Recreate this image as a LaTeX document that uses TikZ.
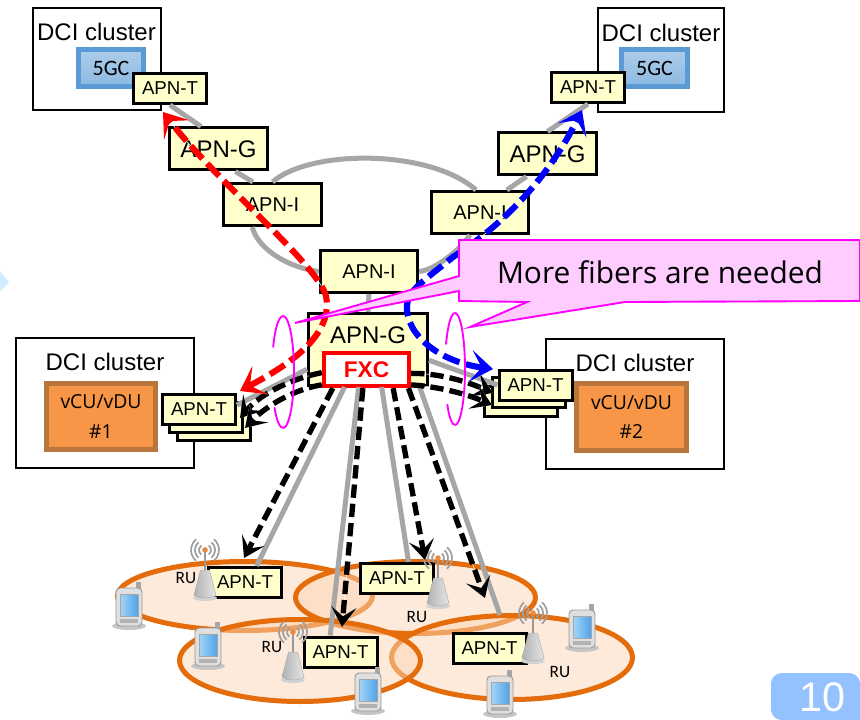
\documentclass[tikz,border=0pt]{standalone}
\usepackage{fontspec}
\setmainfont{Liberation Sans}
\newfontfamily\carlito{Carlito}
\newfontfamily\opensans{Open Sans}
\usetikzlibrary{positioning,arrows.meta,shapes.geometric}

\definecolor{apnfill}{HTML}{FFFFCC}
\definecolor{fibergray}{HTML}{A6A6A6}
\definecolor{cellline}{HTML}{E46C0A}
\definecolor{cellfill}{HTML}{FCD5B5}
\definecolor{gcline}{HTML}{5B9BD5}
\definecolor{culine}{HTML}{B8763C}
\definecolor{cufill}{HTML}{F79646}
\definecolor{notefill}{HTML}{FFCCFF}
\definecolor{notecolor}{HTML}{FF00FF}
\definecolor{badge}{HTML}{94C1FF}
\definecolor{screenA}{HTML}{A5D5F7}
\definecolor{screenB}{HTML}{4FA3E8}

\tikzset{
	apnT/.style={rectangle, draw=black, line width=2.25pt, fill=apnfill, inner sep=0pt, minimum width=54.75pt, minimum height=22.5pt, font=\fontsize{14}{16}\selectfont},
	apnI/.style={rectangle, draw=black, line width=2.25pt, fill=apnfill, inner sep=0pt, minimum width=73pt, minimum height=31.5pt, font=\fontsize{15}{17}\selectfont},
	apnG/.style={apnI, font=\fontsize{18}{20}\selectfont},
	dciBox/.style={rectangle, draw=black, line width=1.5pt, fill=white, inner sep=0pt},
	dciText/.style={inner sep=0pt, font=\fontsize{18}{20}\selectfont},
	gcBox/.style={rectangle, draw=gcline, line width=3.75pt, top color=gcline!50, bottom color=gcline!70, inner sep=0pt, minimum width=49pt, minimum height=28pt, font=\carlito\fontsize{16.5}{18}\selectfont},
	cuBox/.style={rectangle, draw=culine, line width=3.75pt, fill=cufill, inner sep=0pt, minimum width=82pt, minimum height=50pt, align=center, font=\opensans\fontsize{14.5}{22}\selectfont},
	cell/.style={ellipse, draw=cellline, line width=3.75pt, fill=cellfill, fill opacity=0.5, inner sep=0pt},
	ruText/.style={inner sep=0pt, font=\carlito\fontsize{13}{15}\selectfont},
	fiber/.style={draw=fibergray, line width=3.75pt},
	flow/.style={preaction={draw=white, solid}},
	blackflow/.style={flow, draw=black, line width=4pt, dash pattern=on 10pt off 4.5pt, -{Stealth[inset=7pt, length=15pt, width=19pt]}},
	colorflow/.style={flow, line width=4.6pt, dash pattern=on 13pt off 5pt, {Stealth[inset=8.5pt, length=17pt, width=24pt]}-{Stealth[inset=8.5pt, length=17pt, width=24pt]}},
	ring/.style={draw=notecolor, line width=1.4pt},
	tower/.pic={
		\fill[gray!35] (0,3) ellipse (12 and 3);
		\draw[gray!70, left color=gray!60, right color=gray!20, line width=0.3pt] (-11,0) -- (-4.5,-25) -- (4.5,-25) -- (11,0) .. controls (5,4) and (-5,4) .. (-11,0) -- cycle;
		\draw[gray!80, line width=1.4pt] (0,-25) -- (0,-45);
		\foreach \r in {6,10,14} {
			\draw[gray!75, line width=1.3pt] (0,-45) ++(-50:\r) arc[start angle=-50, end angle=50, radius=\r];
			\draw[gray!75, line width=1.3pt] (0,-45) ++(130:\r) arc[start angle=130, end angle=230, radius=\r];
		}
		\fill[cellline!80] (0,-45) circle (2.8);
	},
	phone/.pic={
		\fill[gray!45] (0,21) ellipse (17 and 4);
		\fill[gray!70] (7,-23) rectangle (12,-16);
		\draw[gray!80, fill=gray!25, line width=0.7pt, rounded corners=3pt] (-13,-17) rectangle (13,21);
		\draw[gray!70, left color=screenA, right color=screenB, line width=0.5pt] (-9,-11) rectangle (9,11);
		\fill[gray!60] (-9,14) rectangle (9,18);
	},
}

\begin{document}
\begin{tikzpicture}[x=0.75pt, y=-0.75pt]

	\useasboundingbox (0,0) rectangle (860,720);

	\fill[blue!40!cyan!18] (0,271) -- (9,282) -- (0,292) -- cycle;

	\node[cell, minimum width=191.25pt, minimum height=51.75pt] (CellA) at (245,596) {};
	\node[cell, minimum width=180pt, minimum height=54pt] (CellB) at (415.5,597.5) {};
	\node[cell, minimum width=180.75pt, minimum height=63pt] (CellD) at (512,657.5) {};
	\node[cell, minimum width=180.75pt, minimum height=61.5pt] (CellC) at (300,660.5) {};

	\node[dciBox, minimum width=96pt, minimum height=77pt] (DCIa) at (96.5,59) {};
	\node[dciBox, minimum width=95pt, minimum height=78pt] (DCIb) at (661,60.5) {};
	\node[dciBox, minimum width=134pt, minimum height=97pt] (DCIc) at (105,403) {};
	\node[dciBox, minimum width=134pt, minimum height=97pt] (DCId) at (635,404) {};

	\node[below=12pt of DCIa.north, dciText] (DCIaT) {DCI cluster};
	\node[below=12.5pt of DCIb.north, dciText] (DCIbT) {DCI cluster};
	\node[below=12pt of DCIc.north, dciText] (DCIcT) {DCI cluster};
	\node[below=12pt of DCId.north, dciText] (DCIdT) {DCI cluster};

	\node[gcBox] (GCa) at (111,68) {5GC};
	\node[gcBox] (GCb) at (654.5,68) {5GC};
	\node[cuBox] (CUa) at (101,416.5) {vCU/vDU\\\#1};
	\node[cuBox] (CUb) at (631.5,417) {vCU/vDU\\\#2};

	\node[apnT] (Ta) at (170,88.5) {APN-T};
	\node[apnT] (Tb) at (588,87.5) {APN-T};
	\node[apnG] (Ga) at (218.5,149) {APN-G};
	\node[apnG] (Gb) at (547.5,154) {APN-G};
	\node[apnI] (Ia) at (272.5,204.5) {APN-I};
	\node[apnI] (Ib) at (480,212.5) {APN-I};
	\node[apnI] (Ic) at (369,271.5) {APN-I};

	\node[apnT] (Tl3) at (213.5,425) {};
	\node[apnT] (Tl2) at (205.5,417) {};
	\node[apnT] (Tl) at (199,409) {APN-T};
	\node[apnT] (Tr3) at (521,401) {};
	\node[apnT] (Tr2) at (528.5,392) {};
	\node[apnT] (Tr) at (535.5,385) {APN-T};

	\node[apnT] (Tu1) at (245,582.5) {APN-T};
	\node[apnT] (Tu2) at (397,578.5) {APN-T};
	\node[apnT] (Tu3) at (340.5,652) {APN-T};
	\node[apnT] (Tu4) at (489.5,648) {APN-T};

	\node[rectangle, draw=black, line width=2.25pt, fill=apnfill, minimum width=89.25pt, minimum height=54pt, inner sep=0pt] (Gc) at (368,349.5) {};
	\node[below=10.5pt of Gc.north, inner sep=0pt, font=\fontsize{18}{20}\selectfont] (GcT) {APN-G};
	\node[rectangle, draw=red, line width=3pt, fill=white, text=red, minimum width=64pt, minimum height=25pt, inner sep=0pt, font=\bfseries\fontsize{17}{19}\selectfont] (FXC) at (366.5,369.5) {FXC};

	\node[ruText] (RUa) at (186,578) {RU};
	\node[ruText] (RUb) at (272,647) {RU};
	\node[ruText] (RUc) at (417,617) {RU};
	\node[ruText] (RUd) at (560,672) {RU};

	\pic at (205,595) {tower};
	\pic at (293,677) {tower};
	\pic at (438,603) {tower};
	\pic at (533,658) {tower};

	\pic at (129,605) {phone};
	\pic at (208,645) {phone};
	\pic at (368,690) {phone};
	\pic at (582,627) {phone};
	\pic at (500,693) {phone};

	\coordinate (EndD) at (500,615);
	\coordinate (ArrL1) at (240,418);
	\coordinate (ArrL2) at (245,428);
	\coordinate (ArrR1) at (493,393);
	\coordinate (ArrR2) at (492,405);
	\coordinate (ArrA) at (244,558);
	\coordinate (ArrB) at (342,627);
	\coordinate (ArrC) at (425,560);
	\coordinate (ArrD) at (485,598);
	\coordinate (RedL) at (240,391);
	\coordinate (RedU) at (163,112);
	\coordinate (BlueR) at (493,369);
	\coordinate (BlueU) at (582,110);

	\draw[fiber] (Ta.south) -- (Ga.128);
	\draw[fiber] (Ga.307) -- (Ia.131);
	\draw[fiber] (Tb.south) -- (Gb.north);
	\draw[fiber] (Gb.227) -- (Ib.40);
	\draw[fiber] (Ia.north) .. controls (310,149) and (430,149) .. (Ib.100);
	\draw[fiber] (Ia.228) .. controls (258,250) and (290,268) .. (Ic.west);
	\draw[fiber] (Ic.east) .. controls (435,270) and (460,250) .. (Ib.246);
	\draw[fiber] (Ic.south) -- (Gc.north);
	\draw[fiber] (Gc.198) -- (Tl.6);
	\draw[fiber] (Gc.350) -- (Tr.west);
	\draw[fiber] (Gc.238) -- (Tu1.55);
	\draw[fiber] (Gc.256) -- (Tu3.122);
	\draw[fiber] (Gc.290) -- (Tu2.55);
	\draw[fiber] (Gc.324) -- (EndD);

	\draw[blackflow] (FXC.184) .. controls (295,378) and (262,392) .. (ArrL1);
	\draw[blackflow] (FXC.199) .. controls (300,388) and (270,402) .. (ArrL2);
	\draw[blackflow] (FXC.355) .. controls (440,373) and (468,382) .. (ArrR1);
	\draw[blackflow] (FXC.341) .. controls (432,386) and (462,392) .. (ArrR2);
	\draw[blackflow] (FXC.209) -- (ArrA);
	\draw[blackflow] (FXC.259) -- (ArrB);
	\draw[blackflow] (FXC.325) -- (ArrC);
	\draw[blackflow] (FXC.336) -- (ArrD);

	\draw[colorflow, draw=red] (RedL) .. controls (275,372) and (335,340) .. (326,296) .. controls (318,265) and (215,180) .. (RedU);
	\draw[colorflow, draw=blue] (BlueR) .. controls (440,362) and (405,335) .. (407,305) .. controls (408,290) and (425,280) .. (453,257) .. controls (495,230) and (545,185) .. (BlueU);

	\draw[ring] (283,372) ++(206:11 and 56) arc[start angle=206, end angle=501, x radius=11, y radius=56];
	\draw[ring] (455,369) ++(206:10 and 56) arc[start angle=206, end angle=501, x radius=10, y radius=56];

	\draw[ring, fill=notefill] (459,240) -- (860,240) -- (860,301) -- (625,302) -- (470,327) -- (527,302) -- (459,301) -- (459,291) -- (295,323) -- (459,276) -- cycle;
	\node[inner sep=0pt, font=\opensans\fontsize{22.4}{26}\selectfont] (Note) at (660,272) {More fibers are needed};

	\fill[badge, rounded corners=8pt] (860,720) -- (771,720) -- (771,673) -- (860,673) [sharp corners] -- cycle;
	\node[inner sep=0pt, text=white, font=\fontsize{31}{33}\selectfont] (Page) at (822,697) {10};

\end{tikzpicture}
\end{document}
